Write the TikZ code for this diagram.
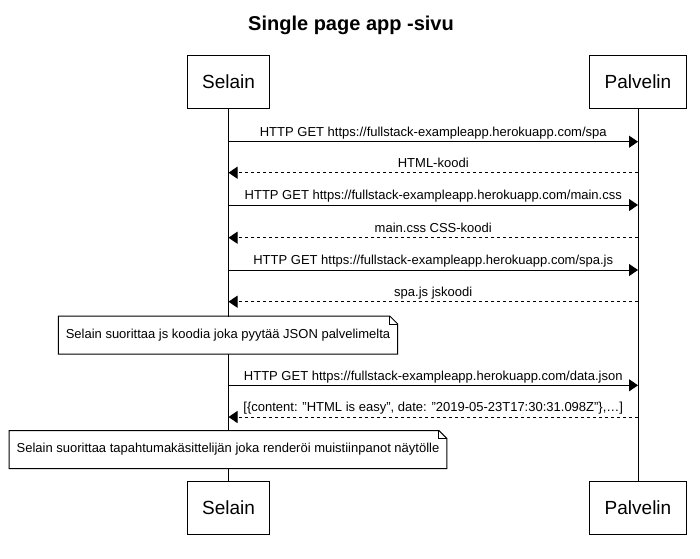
\documentclass[tikz,border=0pt]{standalone}
\usepackage{fontspec}
\setmainfont{Liberation Sans}
\usetikzlibrary{arrows.meta}

\tikzset{
  actor/.style={draw, fill=white, minimum height=53pt, inner xsep=15pt, font=\fontsize{19}{22}\selectfont},
  msg/.style={-{Triangle[length=9pt,width=12pt]}},
  reply/.style={msg, dash pattern=on 3pt off 3pt},
  lbl/.style={above, inner sep=2pt, text height=9.4pt, text depth=2.7pt, font=\fontsize{13}{15}\selectfont},
  note/.style={fill=white, minimum height=37pt, inner xsep=7pt, font=\fontsize{13}{15}\selectfont},
}

\begin{document}
\begin{tikzpicture}[x=1pt,y=-1pt,line width=1pt]
\useasboundingbox (0,0) rectangle (700,558);

\node[font=\bfseries\fontsize{20}{24}\selectfont] (title) at (351,25) {Single page app -sivu};

\node[actor] (s0) at (228.5,81.5) {Selain};
\node[actor] (p0) at (638,81.5) {Palvelin};
\node[actor] (s9) at (228.5,507.5) {Selain};
\node[actor] (p9) at (638,507.5) {Palvelin};

\draw (s0) -- (s9);
\draw (p0) -- (p9);

\foreach \n/\y in {1/141.7,2/172.7,3/205,4/237.7,5/270,6/301.7,7/385.3,8/417}{
  \coordinate (s\n) at (228.5,\y);
  \coordinate (p\n) at (638,\y);
}

\draw[msg] (s1) -- node[lbl]{HTTP GET https://fullstack-exampleapp.herokuapp.com/spa} (p1);
\draw[reply] (p2) -- node[lbl]{HTML-koodi} (s2);
\draw[msg] (s3) -- node[lbl]{HTTP GET https://fullstack-exampleapp.herokuapp.com/main.css} (p3);
\draw[reply] (p4) -- node[lbl]{main.css CSS-koodi} (s4);
\draw[msg] (s5) -- node[lbl]{HTTP GET https://fullstack-exampleapp.herokuapp.com/spa.js} (p5);
\draw[reply] (p6) -- node[lbl]{spa.js jskoodi} (s6);
\draw[msg] (s7) -- node[lbl]{HTTP GET https://fullstack-exampleapp.herokuapp.com/data.json} (p7);
\draw[reply] (p8) -- node[lbl]{[\{content: "HTML is easy", date: "2019-05-23T17:30:31.098Z"\},…]} (s8);

\node[note] (n1) at (228,335) {Selain suorittaa js koodia joka pyytää JSON palvelimelta};
\node[note] (n2) at (228,449.5) {Selain suorittaa tapahtumakäsittelijän joka renderöi muistiinpanot näytölle};

\foreach \m in {n1,n2}{
  \draw (\m.south west) -- (\m.north west) -- ([xshift=-8pt]\m.north east)
    -- ([yshift=-8pt]\m.north east) -- (\m.south east) -- cycle;
  \draw ([xshift=-8pt]\m.north east) -- ([xshift=-8pt,yshift=-8pt]\m.north east)
    -- ([yshift=-8pt]\m.north east);
}
\end{tikzpicture}
\end{document}
